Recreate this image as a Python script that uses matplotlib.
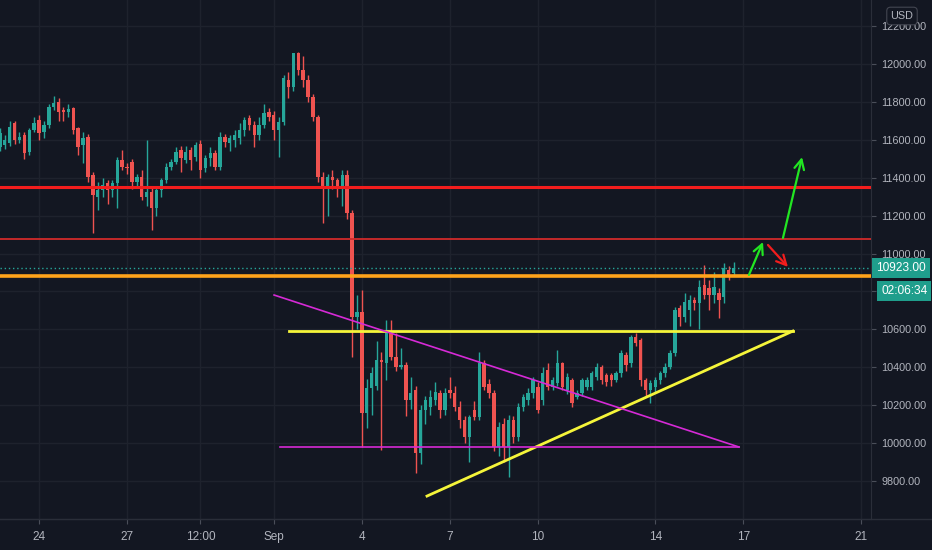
import numpy as np
import matplotlib.pyplot as plt
from matplotlib.lines import Line2D

# 4h candles, first one at Aug 22 16:00 (x axis = days from Aug 24 00:00)
opens = [11564, 11575, 11581, 11687, 11599, 11626, 11537, 11652, 11705, 11643,
         11678, 11775, 11801, 11757, 11748, 11766, 11660, 11573, 11617, 11414,
         11300, 11335, 11370, 11335, 11370, 11493, 11458, 11485, 11379, 11405,
         11300, 11326, 11238, 11335, 11388, 11458, 11485, 11546, 11493, 11546,
         11511, 11578, 11450, 11502, 11529, 11458, 11616, 11581, 11599, 11608,
         11652, 11713, 11678, 11625, 11678, 11748, 11730, 11652, 11696, 11916,
         11880, 12056, 11968, 11916, 11828, 11722, 11405, 11353, 11405, 11388,
         11353, 11414, 11212, 10667, 10693, 10157, 10290, 10300, 10438, 10420,
         10579, 10456, 10403, 10411, 10227, 10280, 9945, 10174, 10192, 10227,
         10262, 10174, 10280, 10262, 10192, 10121, 10033, 10174, 10139, 10420,
         10310, 10262, 9981, 10100, 9981, 10121, 10033, 10192, 10227, 10262,
         10297, 10227, 10385, 10297, 10315, 10420, 10280, 10332, 10244, 10262,
         10297, 10297, 10350, 10403, 10358, 10358, 10332, 10368, 10465, 10420,
         10561, 10544, 10332, 10280, 10297, 10332, 10368, 10403, 10473, 10711,
         10667, 10702, 10755, 10737, 10834, 10816, 10781, 10790, 10772, 10913,
         10895]
closes = [11634, 11600, 11669, 11599, 11617, 11529, 11652, 11687, 11634, 11678,
          11775, 11793, 11748, 11748, 11762, 11652, 11564, 11608, 11405, 11309,
          11335, 11361, 11335, 11370, 11493, 11458, 11450, 11379, 11405, 11300,
          11326, 11238, 11335, 11388, 11458, 11485, 11537, 11502, 11537, 11493,
          11573, 11441, 11502, 11529, 11458, 11616, 11590, 11608, 11625, 11652,
          11704, 11678, 11625, 11678, 11740, 11722, 11652, 11696, 11924, 11880,
          12056, 11968, 11916, 11828, 11722, 11405, 11353, 11405, 11388, 11353,
          11414, 11212, 10667, 10693, 10157, 10290, 10368, 10438, 10430, 10579,
          10456, 10403, 10411, 10227, 10262, 9945, 10174, 10227, 10244, 10270,
          10174, 10262, 10262, 10192, 10121, 10033, 10139, 10139, 10420, 10297,
          10262, 9981, 10086, 9981, 10121, 10033, 10192, 10244, 10262, 10332,
          10174, 10368, 10297, 10332, 10420, 10297, 10350, 10209, 10262, 10332,
          10332, 10368, 10403, 10332, 10323, 10332, 10368, 10473, 10412, 10561,
          10526, 10332, 10280, 10315, 10332, 10368, 10403, 10473, 10702, 10667,
          10746, 10755, 10737, 10825, 10781, 10781, 10825, 10755, 10922, 10878,
          10922]
highs = [11660, 11625, 11700, 11700, 11640, 11640, 11665, 11720, 11730, 11700,
         11790, 11830, 11820, 11775, 11790, 11775, 11670, 11640, 11630, 11430,
         11380, 11400, 11390, 11390, 11510, 11545, 11480, 11500, 11420, 11440,
         11599, 11350, 11350, 11400, 11480, 11500, 11560, 11565, 11570, 11560,
         11590, 11600, 11520, 11560, 11545, 11640, 11630, 11625, 11650, 11690,
         11720, 11730, 11700, 11720, 11790, 11770, 11750, 11720, 11940, 11959,
         12060, 12062, 12040, 11940, 11840, 11730, 11430, 11420, 11440, 11400,
         11440, 11440, 11230, 10780, 10807, 10340, 10400, 10540, 10480, 10649,
         10649, 10579, 10500, 10430, 10350, 10300, 10200, 10250, 10280, 10320,
         10280, 10290, 10350, 10300, 10220, 10140, 10150, 10220, 10480, 10440,
         10340, 10280, 10110, 10130, 10150, 10140, 10210, 10260, 10290, 10350,
         10320, 10400, 10420, 10350, 10491, 10430, 10370, 10345, 10280, 10345,
         10350, 10380, 10420, 10410, 10370, 10370, 10380, 10490, 10480, 10570,
         10579, 10555, 10345, 10330, 10350, 10380, 10420, 10490, 10720, 10730,
         10790, 10780, 10770, 10860, 10939, 10860, 10900, 10820, 10950, 10935,
         10957]
lows = [11540, 11550, 11570, 11580, 11585, 11500, 11520, 11640, 11600, 11610,
        11660, 11760, 11700, 11700, 11720, 11630, 11520, 11480, 11380, 11108,
        11230, 11300, 11260, 11300, 11240, 11440, 11420, 11340, 11350, 11280,
        11250, 11124, 11200, 11300, 11370, 11440, 11470, 11430, 11480, 11440,
        11490, 11400, 11430, 11460, 11440, 11440, 11560, 11540, 11560, 11580,
        11620, 11650, 11560, 11600, 11660, 11700, 11600, 11511, 11680, 11820,
        11860, 11940, 11880, 11800, 11700, 11380, 11160, 11200, 11340, 11300,
        11250, 11180, 10456, 10600, 9981, 10080, 10150, 10280, 9963, 10330,
        10440, 10380, 10390, 10140, 10180, 9840, 9890, 10100, 10150, 10200,
        10130, 10150, 10240, 10170, 10080, 10000, 9900, 10120, 10120, 10280,
        10240, 9960, 9930, 9900, 9822, 10000, 10010, 10170, 10200, 10240,
        10160, 10200, 10280, 10280, 10300, 10280, 10260, 10190, 10230, 10250,
        10280, 10280, 10330, 10310, 10300, 10300, 10320, 10350, 10380, 10400,
        10510, 10300, 10250, 10209, 10270, 10310, 10350, 10390, 10460, 10620,
        10640, 10620, 10700, 10600, 10760, 10700, 10740, 10658, 10740, 10860,
        10880]

date_ticks = [0, 3, 5.5, 8, 11, 14, 17, 21, 24, 28]
date_labels = ['24', '27', '12:00', 'Sep', '4', '7', '10', '14', '17', '21']
price_ticks = [9800, 10000, 10200, 10400, 10600, 10800, 11000, 11200, 11400, 11600, 11800, 12000, 12200]
hidden_ticks = [10800]  # covered by the countdown label on the scale

last_price = 10923.00
countdown = '02:06:34'

# drawn levels
red_top = 11350
red_low = 11077
orange_lvl = 10881
yellow_lvl = 10591
magenta_lvl = 9979

BG = '#131722'
GRID = '#1e222d'
TXT = '#b2b5be'
UP = '#26a69a'
DOWN = '#ef5350'

o = np.array(opens, float)
c = np.array(closes, float)
h = np.array(highs, float)
l = np.array(lows, float)
t = -4 / 3 + np.arange(len(o)) / 6
col = np.where(c >= o, UP, DOWN)

fig = plt.figure(figsize=(9.32, 5.5), dpi=100, facecolor=BG)
ax = fig.add_axes([0, 31 / 550, 871 / 932, 519 / 550])
ax.set_facecolor(BG)

ax.vlines(t, l, h, colors=col, lw=1, zorder=3)
body = np.maximum(np.abs(c - o), 6)
ax.bar(t, body, bottom=np.minimum(o, c), width=0.115, color=col, lw=0, zorder=3)

ax.set_xlim(-1.33, 28.35)
ax.set_ylim(9599, 12338)

# levels and trend lines
ax.axhline(red_top, color='#f21d1d', lw=2.2, zorder=4)
ax.axhline(red_low, color='#d12a2a', lw=1.3, zorder=4)
ax.axhline(orange_lvl, color='#ffa31a', lw=2.6, zorder=4)
ax.axhline(last_price, color=UP, lw=1, ls=(0, (1, 2)), zorder=4)
ax.plot([8.52, 25.69], [yellow_lvl, yellow_lvl], color='#f5f53a', lw=2, zorder=5)
ax.plot([13.22, 25.69], [9720, yellow_lvl], color='#f5f53a', lw=2, zorder=5)
ax.plot([8.01, 23.85], [10781, magenta_lvl], color='#d62ad6', lw=1.2, zorder=5)
ax.plot([8.21, 23.85], [magenta_lvl, magenta_lvl], color='#d62ad6', lw=1.2, zorder=5)

arrows = [((24.19, 10887), (24.67, 11061), '#22e622'),
          ((24.84, 11045), (25.52, 10929), '#f21d1d'),
          ((25.35, 11082), (26.00, 11509), '#22e622')]
for start, end, clr in arrows:
    ax.annotate('', xy=end, xytext=start, zorder=6,
                arrowprops=dict(arrowstyle='->,head_length=0.7,head_width=0.35',
                                color=clr, lw=1.6, shrinkA=0, shrinkB=0))

ax.set_xticks(date_ticks)
ax.set_xticklabels(date_labels)
ax.set_yticks(price_ticks)
ax.set_yticklabels(['' if p in hidden_ticks else f'{p:.2f}' for p in price_ticks])
ax.yaxis.tick_right()
ax.grid(True, color=GRID, lw=1)
ax.set_axisbelow(True)
ax.tick_params(axis='both', colors='#4a4e59', labelcolor=TXT, length=3.5)
ax.tick_params(axis='y', labelsize=7.8, pad=4)
ax.tick_params(axis='x', labelsize=8.5, pad=5)
for lab in ax.get_xticklabels() + ax.get_yticklabels():
    lab.set_family('Liberation Sans')
for side in ['top', 'left']:
    ax.spines[side].set_visible(False)
ax.spines['right'].set_color('#2a2e39')
ax.spines['bottom'].set_color('#2a2e39')
fig.add_artist(Line2D([0, 1], [31 / 550, 31 / 550], color='#2a2e39', lw=1))

# price / countdown labels on the scale
fig.text(876 / 932, 1 - 268 / 550, f'{last_price:.2f}', color='white', fontsize=8.6,
         family='Liberation Sans', va='center', ha='left',
         bbox=dict(boxstyle='square,pad=0.35', fc='#1f9e8c', ec='none'))
fig.text(881 / 932, 1 - 291 / 550, countdown, color='white', fontsize=8.6,
         family='Liberation Sans', va='center', ha='left',
         bbox=dict(boxstyle='square,pad=0.35', fc='#1f9e8c', ec='none'))
fig.text(902 / 932, 1 - 16 / 550, 'USD', color=TXT, fontsize=7.8,
         family='Liberation Sans', va='center', ha='center',
         bbox=dict(boxstyle='round,pad=0.35', fc=BG, ec='#434651', lw=0.8))

fig.savefig('out.png', dpi=100, facecolor=BG)
